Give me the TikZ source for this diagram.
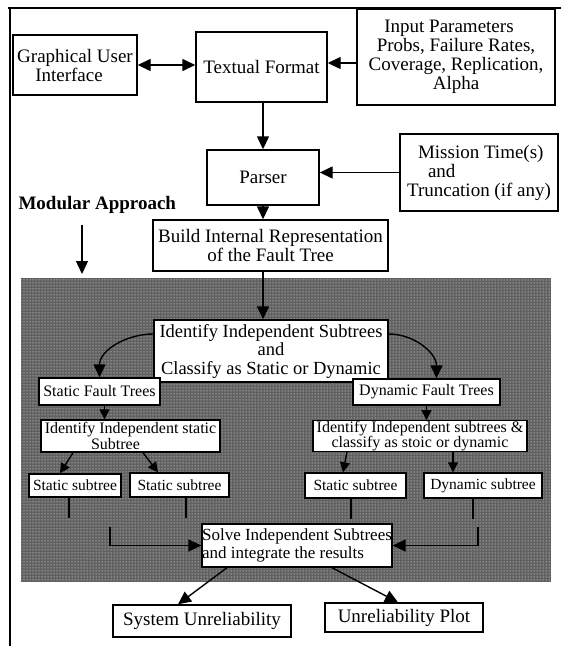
\documentclass[tikz,border=0pt]{standalone}
\usepackage{fontspec}
\setmainfont{Liberation Serif}
\usetikzlibrary{arrows.meta,calc,patterns}
\begin{document}
\begin{tikzpicture}[x=1pt,y=-1pt,
  box/.style={draw,line width=1.4pt,fill=white,inner sep=0pt,align=center,font=\fontsize{19}{19}\selectfont},
  sbox/.style={box,font=\fontsize{16}{14.5}\selectfont},
  tbox/.style={box,font=\fontsize{15.5}{15}\selectfont},
  arr/.style={line width=1.4pt,-{Triangle[length=13pt,width=12pt]}},
  sarr/.style={line width=1.4pt,-{Triangle[length=10pt,width=10pt]}},
  darr/.style={line width=1.4pt,{Triangle[length=13pt,width=12pt]}-{Triangle[length=13pt,width=12pt]}},
  stub/.style={line width=1.2pt},
]
\useasboundingbox (0,0) rectangle (561,646);
% frame
\draw[line width=1.2pt] (8,8) -- (561,8);
\draw[line width=1.2pt] (10,8) -- (10,646);
% shaded region
\fill[black!62] (21,278) rectangle (551,582);
\fill[pattern=dots,pattern color=white] (21,278) rectangle (551,582);

% top nodes
\node[box,minimum width=124pt,minimum height=60pt] (gui) at (75,65)
  {Graphical User\\\hspace*{-12pt}Interface};
\node[box,minimum width=131pt,minimum height=70pt] (tf) at (261.5,67) {Textual Format};
\node[box,minimum width=198pt,minimum height=96pt] (ip) at (456,57)
  {\hspace*{-14pt}Input Parameters\\Probs, Failure Rates,\\Coverage, Replication,\\Alpha};
\node[box,minimum width=112pt,minimum height=55pt] (parser) at (263,177.5) {Parser};
\node[box,minimum width=158pt,minimum height=77pt,align=left] (mt) at (479,172.5)
  {\hspace*{11pt}Mission Time(s)\\\hspace*{21pt}and\\Truncation (if any)};
\node[anchor=west,font=\fontsize{19}{19}\selectfont\bfseries] (mod) at (15,205) {Modular Approach};
\coordinate (ma1) at (82,225);
\coordinate (ma2) at (82,274);
\node[box,minimum width=235pt,minimum height=51pt] (build) at (270.5,245.5)
  {Build Internal Representation\\of the Fault Tree};

% shaded nodes
\node[box,minimum width=234pt,minimum height=62pt,font=\fontsize{18.5}{18.5}\selectfont] (ident) at (271,351)
  {Identify Independent Subtrees\\and\\Classify as Static or Dynamic};
\node[sbox,minimum width=121pt,minimum height=27pt] (sft) at (99.5,391.5) {Static Fault Trees};
\node[sbox,minimum width=147pt,minimum height=26pt] (dft) at (426.5,392) {Dynamic Fault Trees};
\node[sbox,minimum width=179pt,minimum height=32pt,font=\fontsize{16}{12}\selectfont] (ist) at (130.5,436)
  {Identify Independent static\\\hspace*{-30pt}Subtree};
\node[sbox,minimum width=214pt,minimum height=30pt] (idt) at (420,436)
  {Identify Independent subtrees \&\\classify as stoic or dynamic};
\node[tbox,minimum width=92pt,minimum height=23pt] (ss1) at (75,485.5) {Static subtree};
\node[tbox,minimum width=99pt,minimum height=24pt] (ss2) at (179.5,485) {Static subtree};
\node[tbox,minimum width=101pt,minimum height=25pt] (ss3) at (355.5,485.5) {Static subtree};
\node[tbox,minimum width=118pt,minimum height=25pt] (ds) at (483,485.5) {Dynamic subtree};
\node[box,minimum width=188pt,minimum height=43pt,align=left,font=\fontsize{17}{18}\selectfont] (solve) at (297,545.5)
  {Solve Independent Subtrees\\and integrate the results};
\coordinate (le) at (110,527);
\coordinate (re) at (478,527);

% bottom nodes
\node[box,minimum width=178pt,minimum height=32pt] (su) at (202,621) {System Unreliability};
\node[box,minimum width=158pt,minimum height=29pt] (up) at (404,617.5) {Unreliability Plot};

% connectors
\draw[darr] (gui.east) -- (gui.east -| tf.west);
\draw[arr] ([yshift=-6pt]ip.west) -- ([yshift=-6pt]ip.west -| tf.east);
\draw[arr] (tf.south -| parser) -- (parser.north);
\draw[arr] (mt.west) -- (mt.west -| parser.east);
\draw[arr] (parser.south) -- (parser.south |- build.north);
\draw[arr] (ma1) -- (ma2);
\draw[arr] (build.south -| parser) -- (ident.north -| parser);
\draw[arr] ([yshift=17pt]ident.west) to[out=180,in=90] (sft.north);
\draw[arr] ([yshift=17pt]ident.east) to[out=0,in=90] ([xshift=10pt]dft.north);
\draw[sarr] ([xshift=5pt]sft.south) -- ([xshift=5pt]sft.south |- ist.north);
\draw[sarr] (dft.south) -- (dft.south |- idt.north);
\draw[sarr] ([xshift=-57.5pt]ist.south) -- ([xshift=-15pt]ss1.north);
\draw[sarr] ([xshift=12.5pt]ist.south) -- ([xshift=-21.5pt]ss2.north);
\draw[sarr] ([xshift=-73pt]idt.south) -- ([xshift=-12.5pt]ss3.north);
\draw[sarr] ([xshift=33pt]idt.south) -- ([xshift=-30pt]ds.north);
\draw[stub] ([xshift=-6pt]ss1.south) -- ++(0,20);
\draw[stub] ([xshift=6.5pt]ss2.south) -- ++(0,20);
\draw[stub] ([xshift=-4.5pt]ss3.south) -- ++(0,20);
\draw[stub] ([xshift=-10pt]ds.south) -- ++(0,20);
\draw[arr] (le) |- (solve.west);
\draw[arr] (re) |- (solve.east);
\draw[arr] ([xshift=-70pt]solve.south) -- ([xshift=-24pt]su.north);
\draw[arr] ([xshift=35pt]solve.south) -- ([xshift=-6pt]up.north);
\end{tikzpicture}
\end{document}
